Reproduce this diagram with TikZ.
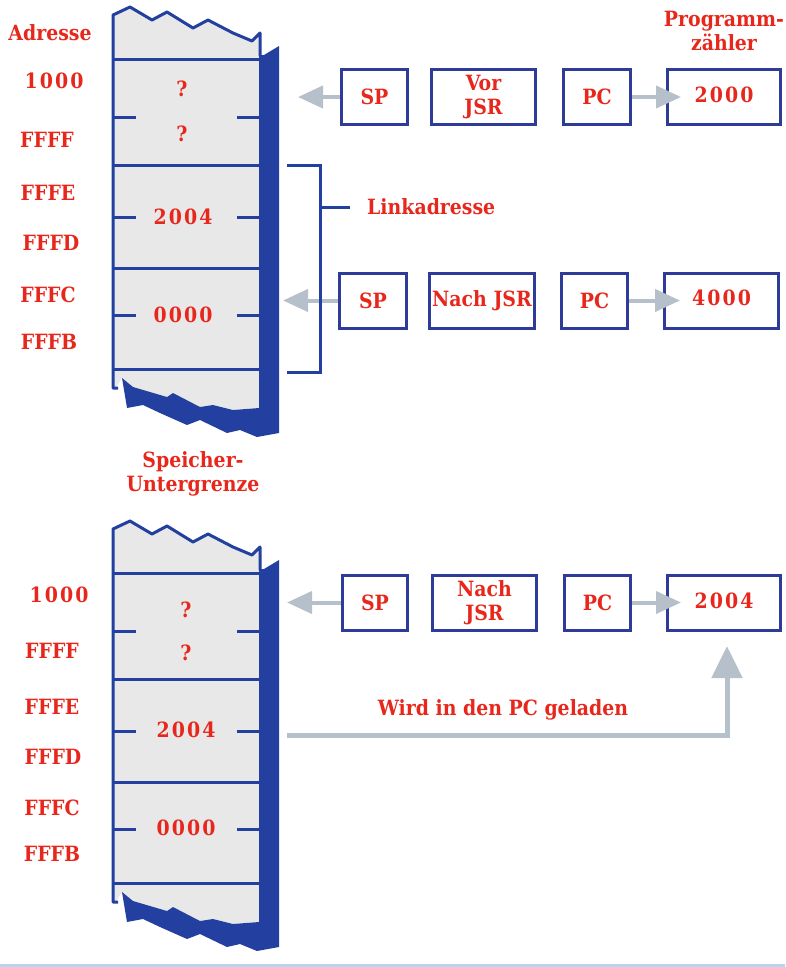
\documentclass[tikz,border=0pt]{standalone}
\usepackage{fontspec}
\setmainfont{DejaVu Serif}[FakeStretch=0.9]
\newfontfamily\digfont{DejaVu Serif}[FakeStretch=0.9,LetterSpace=10]
\usetikzlibrary{arrows.meta}
\definecolor{txtred}{HTML}{E8271C}
\definecolor{memblue}{HTML}{2340A0}
\definecolor{boxblue}{HTML}{2E3B98}
\definecolor{cellgray}{HTML}{E8E8E8}
\definecolor{arrgray}{HTML}{B6C0CA}
\definecolor{stripblue}{HTML}{B8D4EE}
\tikzset{
  lbl/.style={text=txtred,font=\bfseries\fontsize{21}{25}\selectfont,inner sep=0pt,text height=15pt,text depth=0pt,align=center},
  dig/.style={lbl,font=\digfont\bfseries\fontsize{21}{25}\selectfont},
  mlbl/.style={text=txtred,font=\bfseries\fontsize{21}{24}\selectfont,inner sep=0pt,align=center,anchor=north},
  regbox/.style={draw=boxblue,line width=3pt,fill=white,inner sep=0pt,minimum height=55pt,text=txtred,font=\bfseries\fontsize{21}{24}\selectfont,align=center},
  garrow/.style={draw=arrgray,line width=4pt,-{Triangle[length=25pt,width=22pt]}},
  memline/.style={draw=memblue,line width=3pt},
}
\newcommand{\memstackbody}{%
  \fill[cellgray] (113,15) -- (130,7) -- (152,20) -- (167,12) -- (193,28) -- (208,20) -- (233,33) -- (252,41) -- (260,33) -- (260,408) -- (257,408) -- (233,410) -- (213,405) -- (200,407) -- (173,393) -- (167,397) -- (133,387) -- (122,378) -- (116,388) -- (113,388) -- cycle;
  \fill[memblue] (259,55) -- (264,55) -- (279,46) -- (279,433) -- (257,437) -- (240,430) -- (227,433) -- (200,420) -- (187,425) -- (160,413) -- (143,405) -- (127,408) -- (122,378) -- (133,387) -- (167,397) -- (173,393) -- (200,407) -- (213,405) -- (233,410) -- (259,408) -- cycle;
  \draw[memline,line join=round] (118,388) -- (113,388) -- (113,15) -- (130,7) -- (152,20) -- (167,12) -- (193,28) -- (208,20) -- (233,33) -- (252,41) -- (260,33) -- (260,56);
  \foreach \yy in {59,165,268,369} {\draw[memline] (113,\yy) -- (260,\yy);}
  \foreach \yy in {117,217,315} {\draw[memline] (113,\yy) -- (136,\yy); \draw[memline] (237,\yy) -- (260,\yy);}
}
\begin{document}
\begin{tikzpicture}[x=1pt,y=-1pt]
\useasboundingbox (0,0) rectangle (785,967);
\fill[stripblue] (0,964) rectangle (785,967);

% ---------- top stack ----------
\memstackbody
\node[lbl] (qa1) at (182,89) {?};
\node[lbl] (qb1) at (182,134) {?};
\node[dig] (la1) at (183,217) {2004};
\node[dig] (lb1) at (183,315) {0000};

% ---------- bottom stack ----------
\begin{scope}[shift={(0,514)}]
\memstackbody
\end{scope}
\node[lbl] (qa2) at (186,610) {?};
\node[lbl] (qb2) at (186,653) {?};
\node[dig] (la2) at (186,730) {2004};
\node[dig] (lb2) at (186,828) {0000};

% ---------- address labels ----------
\node[lbl] (adr) at (50,33) {Adresse};
\node[dig] (a1) at (54,81) {1000};
\node[lbl] (a2) at (47,140) {FFFF};
\node[lbl] (a3) at (48,193) {FFFE};
\node[lbl] (a4) at (51,243) {FFFD};
\node[lbl] (a5) at (48,295) {FFFC};
\node[lbl] (a6) at (49,342) {FFFB};
\node[dig] (b1) at (59,595) {1000};
\node[lbl] (b2) at (52,651) {FFFF};
\node[lbl] (b3) at (52,707) {FFFE};
\node[lbl] (b4) at (53,757) {FFFD};
\node[lbl] (b5) at (52,808) {FFFC};
\node[lbl] (b6) at (52,854) {FFFB};

\node[mlbl] (pz) at (724,11) {Programm-\\zähler};
\node[mlbl] (su) at (193,451) {Speicher-\\Untergrenze};

% ---------- row 1 ----------
\node[regbox,minimum width=66pt] (sp1) at (374.5,97) {SP};
\node[regbox,minimum width=104pt] (vj1) at (483.5,97) {Vor\\JSR};
\node[regbox,minimum width=67pt] (pc1) at (597,97) {PC};
\node[regbox,minimum width=113pt,font=\digfont\bfseries\fontsize{21}{24}\selectfont] (v1) at (724,97) {\raisebox{4pt}{2000}};
\coordinate (t1) at (298,97);
\coordinate (h1) at (681,97);
\draw[garrow] (sp1.west) -- (t1);
\draw[garrow] (pc1.east) -- (h1);

% ---------- row 2 ----------
\node[regbox,minimum width=67pt] (sp2) at (373,300.5) {SP};
\node[regbox,minimum width=105pt] (vj2) at (482,300.5) {Nach JSR};
\node[regbox,minimum width=66pt] (pc2) at (594.5,300.5) {PC};
\node[regbox,minimum width=114pt,font=\digfont\bfseries\fontsize{21}{24}\selectfont] (v2) at (721.5,300.5) {\raisebox{5pt}{4000}};
\coordinate (t2) at (283,300.5);
\coordinate (h2) at (680,300.5);
\draw[garrow] (sp2.west) -- (t2);
\draw[garrow] (pc2.east) -- (h2);

% bracket
\coordinate (bk) at (320,207);
\draw[memline] (287,165) -- (320,165) -- (320,372) -- (287,372);
\node[lbl,anchor=west] (link) at (367,207) {Linkadresse};
\draw[memline] (bk) -- (350,207);

% ---------- row 3 ----------
\node[regbox,minimum width=65pt] (sp3) at (375,602.5) {SP};
\node[regbox,minimum width=104pt] (vj3) at (484.5,602.5) {Nach\\JSR};
\node[regbox,minimum width=66pt] (pc3) at (597.5,602.5) {PC};
\node[regbox,minimum width=113pt,font=\digfont\bfseries\fontsize{21}{24}\selectfont] (v3) at (724,602.5) {\raisebox{3pt}{2004}};
\coordinate (t3) at (287,602.5);
\coordinate (h3) at (681,602.5);
\draw[garrow] (sp3.west) -- (t3);
\draw[garrow] (pc3.east) -- (h3);

% load arrow
\coordinate (ls) at (287,735);
\coordinate (ld) at (727,646);
\draw[garrow,line width=5pt,-{Triangle[length=32pt,width=30pt]}] (ls) -| (ld);
\node[lbl] (wird) at (503,708) {Wird in den PC geladen};
\end{tikzpicture}
\end{document}
